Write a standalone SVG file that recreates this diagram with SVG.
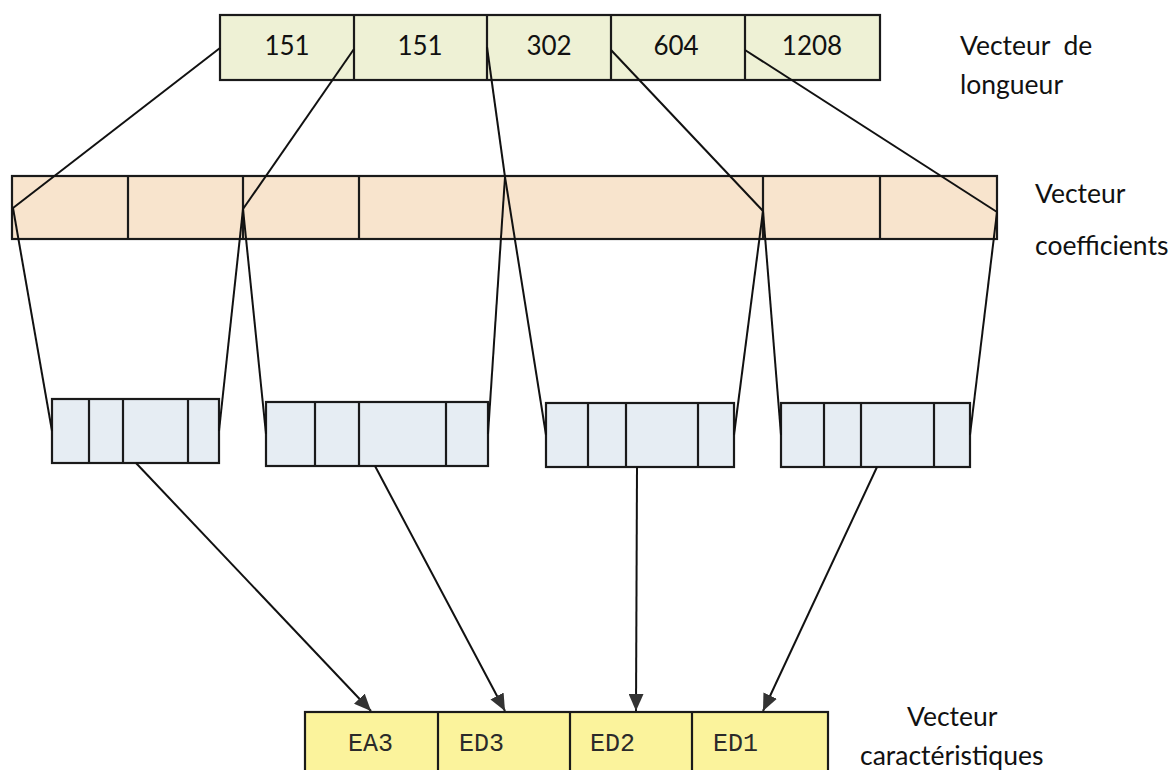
<svg xmlns="http://www.w3.org/2000/svg" width="1176" height="770" viewBox="0 0 1176 770">
<defs>
<style>
.box{stroke:#1a1a1a;stroke-width:2.2}
.top{fill:#eef1d5}
.coef{fill:#f8e4cd}
.small{fill:#e6edf3}
.feat{fill:#fbf39c}
.div{stroke:#1a1a1a;stroke-width:2.2}
.ln{stroke:#111;stroke-width:2;fill:none}
.num{font-family:Lato,"Open Sans",sans-serif;font-size:26px;fill:#111;text-anchor:middle}
.lab{font-family:Lato,"Open Sans",sans-serif;font-size:26.5px;fill:#111}
.mono{font-family:"Liberation Mono","Courier New",monospace;font-size:25px;fill:#2a2a2a}
</style>
<marker id="arr" viewBox="0 0 16 14" refX="16" refY="7" markerWidth="17" markerHeight="15" markerUnits="userSpaceOnUse" orient="auto">
<path d="M0,0 L16,7 L0,14 z" fill="#333"/>
</marker>
</defs>
<rect width="1176" height="770" fill="#fff"/>

<g id="vecteur-longueur">
<rect class="box top" x="220" y="15" width="660" height="65"/>
<line class="div" x1="354" y1="15" x2="354" y2="80"/>
<line class="div" x1="487" y1="15" x2="487" y2="80"/>
<line class="div" x1="611" y1="15" x2="611" y2="80"/>
<line class="div" x1="745" y1="15" x2="745" y2="80"/>
<text class="num" x="287" y="55">151</text>
<text class="num" x="420" y="55">151</text>
<text class="num" x="549" y="55">302</text>
<text class="num" x="676" y="55">604</text>
<text class="num" x="812" y="55">1208</text>
</g>
<g id="label-longueur">
<text class="lab" x="960" y="55" xml:space="preserve">Vecteur  de</text>
<text class="lab" x="960" y="94">longueur</text>
</g>

<g id="vecteur-coefficients">
<rect class="box coef" x="12" y="176" width="985" height="63"/>
<line class="div" x1="128" y1="176" x2="128" y2="239"/>
<line class="div" x1="243" y1="176" x2="243" y2="239"/>
<line class="div" x1="359" y1="176" x2="359" y2="239"/>
<line class="div" x1="763" y1="176" x2="763" y2="239"/>
<line class="div" x1="880" y1="176" x2="880" y2="239"/>
</g>
<g id="label-coefficients">
<text class="lab" x="1035" y="203">Vecteur</text>
<text class="lab" x="1035" y="255">coefficients</text>
</g>

<g id="bloc1">
<rect class="box small" x="52" y="399" width="167" height="64"/>
<line class="div" x1="89" y1="399" x2="89" y2="463"/>
<line class="div" x1="123" y1="399" x2="123" y2="463"/>
<line class="div" x1="188" y1="399" x2="188" y2="463"/>
</g>
<g id="bloc2">
<rect class="box small" x="266" y="402" width="222" height="64"/>
<line class="div" x1="315" y1="402" x2="315" y2="466"/>
<line class="div" x1="359" y1="402" x2="359" y2="466"/>
<line class="div" x1="446" y1="402" x2="446" y2="466"/>
</g>
<g id="bloc3">
<rect class="box small" x="546" y="403" width="188" height="64"/>
<line class="div" x1="588" y1="403" x2="588" y2="467"/>
<line class="div" x1="626" y1="403" x2="626" y2="467"/>
<line class="div" x1="698" y1="403" x2="698" y2="467"/>
</g>
<g id="bloc4">
<rect class="box small" x="781" y="403" width="189" height="64"/>
<line class="div" x1="824" y1="403" x2="824" y2="467"/>
<line class="div" x1="861" y1="403" x2="861" y2="467"/>
<line class="div" x1="934" y1="403" x2="934" y2="467"/>
</g>

<g id="vecteur-caracteristiques">
<rect class="box feat" x="305" y="712" width="523" height="70"/>
<line class="div" x1="438" y1="712" x2="438" y2="770"/>
<line class="div" x1="570" y1="712" x2="570" y2="770"/>
<line class="div" x1="692" y1="712" x2="692" y2="770"/>
<text class="mono" x="348" y="751">EA3</text>
<text class="mono" x="459" y="751">ED3</text>
<text class="mono" x="590" y="751">ED2</text>
<text class="mono" x="713" y="751">ED1</text>
</g>
<g id="label-caracteristiques">
<text class="lab" x="907" y="726">Vecteur</text>
<text class="lab" x="860" y="765">caractéristiques</text>
</g>

<g id="connecteurs">
<line class="ln" x1="220" y1="48" x2="13" y2="208"/>
<line class="ln" x1="354" y1="49" x2="243" y2="209"/>
<line class="ln" x1="487" y1="47" x2="505" y2="177"/>
<line class="ln" x1="611" y1="50" x2="763" y2="211"/>
<line class="ln" x1="745" y1="50" x2="997" y2="212"/>

<line class="ln" x1="13" y1="208" x2="52" y2="431"/>
<line class="ln" x1="243" y1="209" x2="219" y2="431"/>
<line class="ln" x1="243" y1="209" x2="266" y2="434"/>
<line class="ln" x1="505" y1="177" x2="488" y2="434"/>
<line class="ln" x1="505" y1="177" x2="546" y2="435"/>
<line class="ln" x1="763" y1="211" x2="734" y2="435"/>
<line class="ln" x1="763" y1="211" x2="781" y2="435"/>
<line class="ln" x1="997" y1="212" x2="970" y2="435"/>

<line class="ln" x1="136" y1="463" x2="371" y2="711" marker-end="url(#arr)"/>
<line class="ln" x1="375" y1="466" x2="505" y2="711" marker-end="url(#arr)"/>
<line class="ln" x1="637" y1="467" x2="636" y2="711" marker-end="url(#arr)"/>
<line class="ln" x1="877" y1="467" x2="763" y2="711" marker-end="url(#arr)"/>
</g>
</svg>
